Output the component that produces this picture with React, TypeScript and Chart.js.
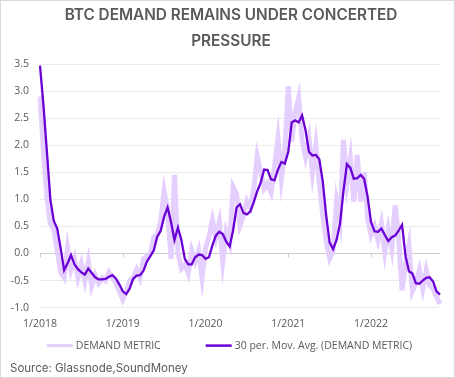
import { useEffect, useRef } from 'react';
import { Chart, registerables } from 'chart.js';

Chart.register(...registerables);

// Semi-monthly observation dates, Jan 2018 .. Jan 2023 (M/D/YYYY)
const CATEGORIES: string[] = Array.from({ length: 117 }, (_, i) => {
  const m = Math.floor(i / 2);
  const year = 2018 + Math.floor(m / 12);
  const month = (m % 12) + 1;
  return `${month}/${i % 2 === 0 ? 1 : 16}/${year}`;
});

const DEMAND_METRIC: number[] = [
  2.90, 1.90, 1.05, 0.55, 0.45, 0.05, -0.35, -0.45, 0.10, -0.30,
  -0.10, -0.45, -0.20, -0.50, -0.15, -0.60, -0.40, -0.55, -0.45, -0.50,
  -0.35, -0.45, -0.55, -0.70, -0.85, -0.70, -0.50, -0.45, -0.30, -0.45,
  -0.10, -0.05, 0.00, 0.30, 0.35, 0.60, 1.15, 0.80, -0.10, 1.45,
  0.00, -0.28, -0.20, -0.37, 0.05, -0.15, 0.05, -0.45, 0.10, 0.30,
  0.62, 0.30, 0.58, -0.15, 0.40, 0.20, 1.23, 1.10, 0.52, 0.70,
  0.97, 0.85, 1.20, 1.79, 1.50, 1.20, 1.30, 1.13, 1.60, 2.13,
  1.38, 1.90, 3.09, 2.07, 2.60, 2.87, 2.10, 1.79, 2.13, 1.50,
  2.00, 1.30, 0.71, 0.22, -0.09, 0.05, 0.96, 0.60, 2.10, 1.30,
  1.75, 0.96, 1.82, 0.96, 1.50, 0.65, 0.34, 0.50, 0.25, 0.55,
  0.03, 0.45, 0.10, 0.89, 0.30, -0.68, -0.20, 0.15, -0.70, -0.55,
  -0.31, -0.65, -0.31, -0.60, -0.65, -0.80, -0.93,
];

const DEMAND_MA30: number[] = [
  3.47, 2.74, 1.88, 1.00, 0.60, 0.46, 0.09, -0.31, -0.18, -0.03,
  -0.20, -0.29, -0.35, -0.39, -0.28, -0.36, -0.44, -0.48, -0.48, -0.47,
  -0.43, -0.40, -0.46, -0.57, -0.70, -0.75, -0.65, -0.47, -0.41, -0.40,
  -0.32, -0.15, -0.05, 0.06, 0.31, 0.42, 0.68, 0.85, 0.58, 0.25,
  0.48, 0.25, -0.10, -0.20, -0.20, -0.07, -0.02, -0.03, -0.10, -0.07,
  0.15, 0.33, 0.40, 0.36, 0.22, 0.13, 0.43, 0.85, 0.91, 0.75,
  0.72, 0.78, 0.95, 1.15, 1.31, 1.55, 1.54, 1.37, 1.35, 1.55,
  1.69, 1.66, 1.88, 2.42, 2.46, 2.42, 2.55, 2.28, 1.88, 1.81,
  1.82, 1.74, 1.33, 0.70, 0.20, 0.08, 0.25, 0.55, 1.15, 1.65,
  1.58, 1.38, 1.39, 1.45, 1.38, 1.05, 0.58, 0.41, 0.40, 0.46,
  0.34, 0.23, 0.30, 0.33, 0.42, 0.53, -0.05, -0.33, -0.37, -0.55,
  -0.56, -0.50, -0.45, -0.44, -0.52, -0.70, -0.76,
];

const Y_MIN = -1;
const Y_MAX = 3.5;
const Y_STEP = 0.5;
const TITLE_LINES = ['BTC DEMAND REMAINS UNDER CONCERTED', 'PRESSURE'];
const SOURCE_TEXT = 'Source: Glassnode,SoundMoney';
const SERIES_LABELS = ['DEMAND METRIC', '30 per. Mov. Avg. (DEMAND METRIC)'];

const LIGHT = '#e4cfff';
const DARK = '#6a00d4';
const TEXT = '#595959';
const AXIS_FONT = { family: '"Open Sans", "Noto Sans", sans-serif', size: 10.5 };

const framePlugin = {
  id: 'frame',
  beforeDraw(chart: any) {
    const { ctx, width, height } = chart;
    ctx.save();
    ctx.fillStyle = '#ffffff';
    ctx.fillRect(0, 0, width, height);
    ctx.strokeStyle = '#d9d9d9';
    ctx.lineWidth = 1;
    ctx.strokeRect(0.5, 0.5, width - 1, height - 1);
    ctx.restore();
  },
};

const titleShiftPlugin = {
  id: 'titleShift',
  afterLayout(chart: any) {
    const t = chart.titleBlock;
    if (t) t.left += 12;
  },
};

const zeroTicksPlugin = {
  id: 'zeroTicks',
  beforeDatasetsDraw(chart: any) {
    const { ctx } = chart;
    const xs = chart.scales.x;
    const y0 = chart.scales.y.getPixelForValue(0);
    ctx.save();
    ctx.strokeStyle = '#cccccc';
    ctx.lineWidth = 1;
    CATEGORIES.forEach((c, i) => {
      if (c.startsWith('1/1/')) {
        const px = Math.round(xs.getPixelForValue(i)) + 0.5;
        ctx.beginPath();
        ctx.moveTo(px, y0);
        ctx.lineTo(px, y0 + 4);
        ctx.stroke();
      }
    });
    ctx.restore();
  },
};

const legendPlugin = {
  id: 'bottomLegend',
  afterDraw(chart: any) {
    const { ctx, chartArea } = chart;
    const sample = 26;
    const gap = 3;
    const itemGap = 45;
    ctx.save();
    ctx.font = `${AXIS_FONT.size}px ${AXIS_FONT.family}`;
    const items = chart.data.datasets.map((ds: any) => ({
      text: ds.label as string,
      color: ds.borderColor as string,
      lw: ds.label === SERIES_LABELS[0] ? 3 : 2.5,
      w: sample + gap + ctx.measureText(ds.label).width,
    }));
    const total = items.reduce((s: number, it: any) => s + it.w, 0) + itemGap * (items.length - 1);
    let x = chart.width / 2 + 2 - total / 2;
    const y = chartArea.bottom + 38;
    ctx.textBaseline = 'middle';
    ctx.textAlign = 'left';
    items.forEach((it: any) => {
      ctx.strokeStyle = it.color;
      ctx.lineWidth = it.lw;
      ctx.beginPath();
      ctx.moveTo(x, y);
      ctx.lineTo(x + sample, y);
      ctx.stroke();
      ctx.fillStyle = TEXT;
      ctx.fillText(it.text, x + sample + gap, y);
      x += it.w + itemGap;
    });
    ctx.restore();
  },
};

export default function App() {
  const ref = useRef<HTMLCanvasElement | null>(null);

  useEffect(() => {
    if (!ref.current) return;
    const chart = new Chart(ref.current, {
      type: 'line',
      data: {
        labels: CATEGORIES,
        datasets: [
          {
            label: SERIES_LABELS[0],
            data: DEMAND_METRIC,
            borderColor: LIGHT,
            backgroundColor: LIGHT,
            borderWidth: 5,
            pointRadius: 0,
            tension: 0,
            order: 2,
          },
          {
            label: SERIES_LABELS[1],
            data: DEMAND_MA30,
            borderColor: DARK,
            backgroundColor: DARK,
            borderWidth: 2.3,
            pointRadius: 0,
            tension: 0,
            order: 1,
          },
        ],
      },
      options: {
        responsive: false,
        animation: false,
        events: [],
        layout: { padding: { left: 10, right: 15, top: 0, bottom: 0 } },
        plugins: {
          legend: { display: false },
          tooltip: { enabled: false },
          title: {
            display: true,
            text: TITLE_LINES,
            color: TEXT,
            font: { family: 'Inter, sans-serif', size: 15.3, weight: '600', lineHeight: '26px' } as any,
            padding: { top: 2, bottom: 10 },
          },
          subtitle: {
            display: true,
            text: SOURCE_TEXT,
            position: 'bottom',
            align: 'start',
            color: TEXT,
            font: { family: 'Inter, sans-serif', size: 11.5, lineHeight: 1.2 },
            padding: { top: 21, bottom: 3 },
          },
        },
        scales: {
          x: {
            type: 'category',
            grid: { display: false, drawTicks: false },
            border: { display: false },
            ticks: {
              autoSkip: false,
              maxRotation: 0,
              minRotation: 0,
              padding: 10,
              color: TEXT,
              font: AXIS_FONT,
              callback: (_v: any, i: number) => {
                const c = CATEGORIES[i];
                return c && c.startsWith('1/1/') ? '1/' + c.slice(4) : '';
              },
            },
          },
          y: {
            min: Y_MIN,
            max: Y_MAX,
            afterFit: (s: any) => {
              s.width = 30;
            },
            ticks: {
              stepSize: Y_STEP,
              padding: 11,
              color: TEXT,
              font: AXIS_FONT,
              callback: (v: any) => Number(v).toFixed(1),
            },
            grid: {
              color: (c: any) => (c.tick && c.tick.value === 0 ? '#cccccc' : '#ebebeb'),
              drawTicks: false,
              lineWidth: 1,
            },
            border: { display: false },
          },
        },
      },
      plugins: [framePlugin, titleShiftPlugin, zeroTicksPlugin, legendPlugin],
    });
    return () => chart.destroy();
  }, []);

  return (
    <div style={{ position: 'fixed', left: 0, top: 0, width: 455, height: 378 }}>
      <canvas ref={ref} width={455} height={378} style={{ display: 'block' }} />
    </div>
  );
}
